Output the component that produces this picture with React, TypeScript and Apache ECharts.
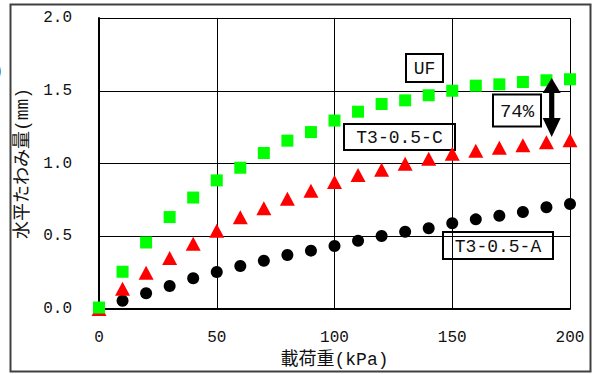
import React, { useEffect, useRef } from "react";
import * as echarts from "echarts";

const loads = [0, 10, 20, 30, 40, 50, 60, 70, 80, 90, 100, 110, 120, 130, 140, 150, 160, 170, 180, 190, 200];
const ufValues = [0.01, 0.256, 0.457, 0.632, 0.766, 0.884, 0.971, 1.072, 1.157, 1.216, 1.295, 1.356, 1.409, 1.434, 1.469, 1.5, 1.535, 1.544, 1.56, 1.572, 1.579];
const cValues = [0.0, 0.14, 0.25, 0.35, 0.449, 0.538, 0.63, 0.692, 0.758, 0.813, 0.873, 0.921, 0.957, 0.999, 1.033, 1.067, 1.088, 1.109, 1.125, 1.146, 1.159];
const aValues = [0.0, 0.057, 0.108, 0.158, 0.211, 0.254, 0.296, 0.332, 0.371, 0.401, 0.433, 0.469, 0.502, 0.531, 0.555, 0.589, 0.616, 0.641, 0.667, 0.699, 0.722];
const seriesNames = ["T3-0.5-A", "T3-0.5-C", "UF"];
const ratioLabel = "74%";
const xAxisName = "載荷重(kPa)";
const yAxisName = "水平たわみ量(mm)";

const MONO = "'Liberation Mono', 'Noto Sans CJK JP', monospace";

function box(x: number, y: number, w: number, h: number, label: string, fontSize: number) {
  return {
    type: "group",
    z: 100,
    children: [
      { type: "rect", shape: { x, y, width: w, height: h }, style: { fill: "#fff", stroke: "#000", lineWidth: 2 } },
      {
        type: "text",
        x: x + w / 2,
        y: y + h / 2 + 1,
        style: { text: label, fontSize, fontFamily: MONO, fill: "#111", align: "center", verticalAlign: "middle" },
      },
    ],
  };
}

export default function App() {
  const ref = useRef<HTMLDivElement>(null);
  useEffect(() => {
    if (!ref.current) return;
    const chart = echarts.init(ref.current, null, { renderer: "svg" });
    const pair = (vals: number[]) => loads.map((x, i) => [x, vals[i]]);
    const ax = 551.7;
    chart.setOption({
      animation: false,
      backgroundColor: "#fff",
      grid: { left: 99, right: 23, top: 18, bottom: 65, containLabel: false, outerBoundsMode: "none" },
      xAxis: {
        type: "value",
        min: 0,
        max: 200,
        interval: 50,
        name: xAxisName,
        nameLocation: "middle",
        nameGap: 41,
        nameTextStyle: { fontSize: 18, fontFamily: MONO, color: "#111" },
        axisLine: { show: true, lineStyle: { color: "#000", width: 2 } },
        axisTick: { show: false },
        axisLabel: { fontSize: 16, fontFamily: MONO, color: "#111", margin: 21 },
        splitLine: { show: true, lineStyle: { color: "#000", width: 1 } },
      },
      yAxis: {
        type: "value",
        min: 0,
        max: 2,
        interval: 0.5,
        name: yAxisName,
        nameLocation: "middle",
        nameRotate: 90,
        nameGap: 63,
        nameTextStyle: { fontSize: 18, fontFamily: MONO, color: "#111" },
        axisLine: { show: true, lineStyle: { color: "#000", width: 2 } },
        axisTick: { show: false },
        axisLabel: { fontSize: 16, fontFamily: MONO, color: "#111", margin: 27, formatter: (v: number) => v.toFixed(1) },
        splitLine: { show: true, lineStyle: { color: "#000", width: 1 } },
      },
      series: [
        { name: seriesNames[0], type: "scatter", data: pair(aValues), symbol: "circle", symbolSize: 12, itemStyle: { color: "#000", opacity: 1 }, clip: false, z: 3 },
        { name: seriesNames[1], type: "scatter", data: pair(cValues), symbol: "triangle", symbolSize: [15, 14], itemStyle: { color: "#ff0000", opacity: 1 }, clip: false, z: 4 },
        { name: seriesNames[2], type: "scatter", data: pair(ufValues), symbol: "rect", symbolSize: 12, itemStyle: { color: "#00ff00", opacity: 1 }, clip: false, z: 5 },
      ],
      graphic: [
        { type: "rect", z: 200, shape: { x: 10.5, y: 4.5, width: 580, height: 367 }, style: { fill: "none", stroke: "#404040", lineWidth: 2 } },
        { type: "text", z: 200, x: -5, y: 70, style: { text: ")", fontSize: 20, fontFamily: "'Liberation Sans'", fill: "#111", verticalAlign: "middle" } },
        box(406, 54, 37, 28, seriesNames[2], 18),
        box(344, 124, 111, 26, seriesNames[1], 18),
        box(443, 232, 110, 27, seriesNames[0], 18),
        box(493, 94.5, 48, 32, ratioLabel, 19),
        { type: "rect", z: 150, shape: { x: ax - 2.6, y: 92, width: 5.2, height: 27 }, style: { fill: "#000" } },
        { type: "polygon", z: 150, shape: { points: [[ax, 78], [ax - 9, 93], [ax + 9, 93]] }, style: { fill: "#000" } },
        { type: "polygon", z: 150, shape: { points: [[ax, 137], [ax - 9, 118], [ax + 9, 118]] }, style: { fill: "#000" } },
      ],
    });
    return () => chart.dispose();
  }, []);
  return <div ref={ref} style={{ position: "absolute", left: 0, top: 0, width: 593, height: 374 }} />;
}
